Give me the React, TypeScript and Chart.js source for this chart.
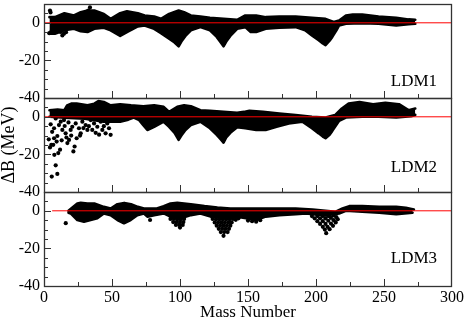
import { useEffect, useRef } from 'react';
import { Chart, registerables } from 'chart.js';
Chart.register(...registerables);

// ---------- data ----------
const X_MIN = 0;
const X_MAX = 300;
const X_TICK_VALUES = [0, 50, 100, 150, 200, 250, 300];
const Y_MIN = -40;
const Y_MAX = 10;
const Y_TICK_LABELS = [0, -20, -40];
const PANEL_LABELS = ['LDM1', 'LDM2', 'LDM3'];
const LABEL_X = 289;
const LABEL_Y = [-33.8, -29.1, -27.9];
const RED_START = [0, 0, 6];

// Panel 1 (LDM1) band envelopes
const P1_UP_A = [4, 8, 15, 22, 27, 32, 37, 44, 49, 56, 61, 69, 74, 81, 86, 92, 99, 103, 108, 115, 122, 132, 142, 148, 156, 163, 173, 185, 197, 207, 213, 217, 222, 227, 234, 246, 259, 268, 273];
const P1_UP_V = [3.0, 3.0, 5.1, 3.9, 5.6, 6.5, 6.5, 4.7, 2.1, 5.1, 6.1, 5.1, 3.9, 3.3, 2.1, 4.7, 6.5, 5.6, 3.9, 3.3, 2.6, 2.1, 1.6, 3.9, 3.9, 3.0, 3.3, 3.3, 2.6, 2.1, 0.4, 1.2, 3.9, 4.4, 4.4, 3.3, 2.6, 1.8, 1.6];
const P1_LO_A = [4, 8, 15, 22, 27, 32, 37, 44, 49, 56, 61, 69, 74, 81, 86, 92, 96, 99, 101, 104, 108, 115, 122, 127, 130, 132, 134, 137, 142, 148, 152, 156, 163, 173, 185, 192, 197, 202, 205, 207, 210, 212, 215, 217, 222, 234, 246, 259, 268, 273];
const P1_LO_V = [-5.8, -5.8, -4.0, -3.2, -4.5, -4.9, -3.2, -2.6, -4.0, -7.0, -4.9, -1.9, -1.4, -3.2, -5.5, -8.5, -10.5, -12.5, -10.0, -7.0, -4.0, -2.3, -4.0, -7.5, -10.5, -12.5, -10.0, -7.0, -3.2, -2.3, -4.9, -4.9, -3.2, -2.6, -2.3, -4.0, -6.7, -9.3, -11.0, -11.9, -9.5, -7.5, -4.0, -1.4, -0.5, -0.2, -0.5, -1.4, -0.8, -0.5];
const P1_POINTS = [[4.4, 6.5], [4.8, 5.5], [3.9, -5.5], [5.5, -4.5], [12.3, -4.9], [13.5, -6.7], [14.7, -5.8], [16.2, -5.0], [11.8, -4.0], [33.8, 8.2], [32.6, 6.5], [7.0, -3.5]];

// Panel 2 (LDM2) band envelopes
const P2_UP_A = [4, 10, 15, 17, 20, 24, 32, 37, 40, 44, 49, 56, 64, 73, 81, 88, 92, 98, 103, 108, 115, 122, 132, 142, 147, 151, 161, 173, 185, 197, 207, 214, 219, 224, 232, 242, 251, 261, 268, 273];
const P2_UP_V = [3.5, 3.9, 3.5, 6.1, 7.0, 7.0, 6.1, 7.0, 8.4, 7.9, 6.1, 6.7, 6.1, 5.6, 6.1, 5.3, 2.6, 5.3, 6.1, 5.6, 3.5, 3.2, 2.6, 2.1, 2.6, 3.2, 2.6, 1.75, 0.9, 0, -0.35, 0.9, 4.4, 7.0, 7.9, 6.7, 7.4, 6.7, 3.5, 4.4];
const P2_LO_A = [4, 15, 30, 44, 50, 56, 62, 66, 70, 73, 76, 81, 88, 92, 96, 99, 101, 104, 108, 115, 122, 127, 130, 132, 134, 137, 142, 148, 156, 163, 171, 180, 190, 197, 202, 205, 207, 210, 212, 217, 222, 234, 246, 259, 270, 273];
const P2_LO_V = [0, -0.5, -1.0, -2.6, -2.6, -2.6, -1.5, -0.4, -1.75, -4.5, -7.0, -5.3, -2.6, -5.3, -8.5, -12.3, -10, -7, -4.4, -2.6, -6.1, -9.6, -12, -13.7, -11, -8.5, -5.5, -6.1, -7.0, -7.0, -5.3, -3.5, -2.6, -6.1, -8.8, -10.5, -11.4, -9.5, -7.5, -2.1, -0.4, 0, 0, -0.4, 0.35, 1.0];
const P2_POINTS = [[5.7, -31.8], [9.8, -30.4], [8.6, -25.8], [7.6, -20.2], [4.4, -16.3], [5.4, -14.9], [6.8, -14.9], [11.8, -17.5], [9.3, -13.2], [7.4, -11.4], [9.8, -10.2], [13.5, -7], [11, -4.4], [15.9, -8.8], [18.4, -12.3], [17.2, -14], [19.6, -7], [20.8, -5.3], [22.5, -15.8], [24, -11.4], [21.6, -18.4], [23.3, -3.5], [25.7, -6.1], [27, -8.8], [28.2, -2.6], [30.6, -4.4], [31.9, -7], [34.3, -1.75], [36.8, -3.5], [39.2, -5.3], [41.7, -2.6], [42.9, -7], [45.3, -8.8], [47.8, -6.1], [14.7, -1.75], [8.6, -0.9], [7.4, -6.1], [12.3, -2.6], [15.2, -4.9], [49, -9.6], [4.9, -4], [6, -8], [3.5, -12], [10.5, -19.3], [26.5, -10], [29, -6], [33, -5], [35.5, -7], [38, -8.5], [44, -5], [46.5, -3.5], [40.5, -9.5], [18, -3], [16.5, -11], [13, -12.5], [20, -10]];

// Panel 3 (LDM3) band envelopes
const P3_UP_A = [18, 20, 24.5, 27, 32, 37, 40.5, 44, 49, 54, 59, 64, 69, 73.5, 78, 83, 88, 93, 98, 108, 118, 127.5, 137, 147, 161, 173, 185, 197.5, 207, 214.5, 219.5, 224.5, 234, 246.5, 259, 266, 272];
const P3_UP_V = [0, 1.2, 3.9, 4.2, 3.9, 3.9, 3.0, 2.1, 1.2, 3.5, 4.2, 3.5, 2.1, 1.2, 1.2, 1.2, 2.5, 3.9, 4.2, 3.5, 2.5, 1.75, 1.2, 1.2, 1.2, 1.2, 1.2, 0.7, 0, -0.5, 1.2, 2.5, 2.5, 2.1, 2.1, 1.6, 0.7];
const P3_LO_A = [18, 19.6, 24.5, 29.4, 34.3, 39.2, 44, 49, 54, 58.8, 63.7, 68.6, 73.5, 76, 81, 88, 93, 98, 103, 108, 115, 122.5, 130, 137, 142, 148.5, 156, 163, 173, 185, 192.6, 197.5, 207, 212, 217, 222, 234, 246.5, 259, 271];
const P3_LO_V = [-1.0, -1.4, -4.9, -5.8, -4.9, -4.0, -1.4, -2.3, -4.9, -6.6, -4.9, -2.3, -1.4, -3.1, -2.3, -1.4, -3.1, -4.0, -3.5, -2.3, -1.4, -3.1, -3.8, -3.8, -3.1, -4.0, -4.9, -3.1, -2.3, -1.75, -1.4, -1.75, -2.5, -2.0, -1.4, 0, -0.5, -1.0, -1.75, -1.0];
const P3_POINTS = [
  [16, -6.6], [78, -4.9],
  [93, -4.3], [95.5, -4.3], [98, -4.5], [100.5, -4.5], [103, -4.3],
  [95, -6], [97.5, -6], [100, -6], [102.5, -6],
  [97, -7.5], [99.5, -7.5], [102, -7.5], [100, -8.9],
  [124, -4.3], [126.5, -4.5], [129, -4.5], [131.5, -4.5], [134, -4.5], [136.5, -4.5], [139, -4.3],
  [125.5, -6.2], [128, -6.2], [130.5, -6.2], [133, -6.2], [135.5, -6.2], [138, -6.2],
  [127, -7.9], [129.5, -7.9], [132, -7.9], [134.5, -7.9], [137, -7.9],
  [128.5, -9.6], [131, -9.6], [133.5, -9.6], [136, -9.6],
  [130, -11.3], [132.5, -11.3], [135, -11.3], [132, -13.3],
  [141, -4.8], [143, -4.0],
  [197, -2.8], [199, -4], [201, -5.5], [203, -7], [205, -8.5], [206.5, -10], [207.5, -11.9],
  [201, -2.8], [203, -4], [205, -5.5], [207, -7], [208.5, -8.5], [210, -9.8],
  [205, -2.8], [207, -4], [209, -5.3], [211, -6.8], [212.5, -8],
  [209, -2.8], [211, -3.8], [213, -5], [214.5, -6.2],
  [213, -2.5], [215, -3.4], [216, -4.5],
  [150, -5.2], [153, -5.5], [156, -5.8], [159, -5.0]
];

const FONT = 'Liberation Serif';

const PANELS = [
  { axis: 'y1', upA: P1_UP_A, upV: P1_UP_V, loA: P1_LO_A, loV: P1_LO_V, pts: P1_POINTS },
  { axis: 'y2', upA: P2_UP_A, upV: P2_UP_V, loA: P2_LO_A, loV: P2_LO_V, pts: P2_POINTS },
  { axis: 'y3', upA: P3_UP_A, upV: P3_UP_V, loA: P3_LO_A, loV: P3_LO_V, pts: P3_POINTS },
];

const toXY = (a: number[], v: number[]) => a.map((x, i) => ({ x, y: v[i] }));

const framePlugin = {
  id: 'frameTicks',
  afterDraw(chart: any) {
    const { ctx, chartArea } = chart;
    const xs = chart.scales.x;
    ctx.save();
    PANELS.forEach((p, i) => {
      const s = chart.scales[p.axis];
      const top = s.top;
      const bottom = s.bottom;
      ctx.strokeStyle = '#333';
      ctx.lineWidth = 1.3;
      ctx.strokeRect(chartArea.left + 0.5, top + 0.5, chartArea.right - chartArea.left - 1, bottom - top);
      ctx.lineWidth = 1;
      ctx.beginPath();
      for (let v = Y_MIN; v <= Y_MAX; v += 5) {
        const y = Math.round(s.getPixelForValue(v)) + 0.5;
        const len = v % 20 === 0 ? 7 : 4;
        ctx.moveTo(chartArea.left, y);
        ctx.lineTo(chartArea.left + len, y);
      }
      for (let a = X_MIN + 25; a < X_MAX; a += 25) {
        const x = Math.round(xs.getPixelForValue(a)) + 0.5;
        const len = a % 50 === 0 ? 7 : 4;
        ctx.moveTo(x, bottom);
        ctx.lineTo(x, bottom - len);
      }
      ctx.stroke();
      ctx.fillStyle = '#000';
      ctx.font = `17px "${FONT}"`;
      ctx.textAlign = 'right';
      ctx.textBaseline = 'alphabetic';
      ctx.fillText(PANEL_LABELS[i], xs.getPixelForValue(LABEL_X), s.getPixelForValue(LABEL_Y[i]));
    });
    ctx.restore();
  },
};

export default function App() {
  const ref = useRef<HTMLCanvasElement | null>(null);
  useEffect(() => {
    if (!ref.current) return;
    const datasets: any[] = [];
    PANELS.forEach((p, i) => {
      const loIndex = datasets.length;
      datasets.push({
        type: 'line', data: toXY(p.loA, p.loV), yAxisID: p.axis, xAxisID: 'x',
        borderColor: '#000', borderWidth: 2.6, pointRadius: 0, fill: false, tension: 0, order: 3,
        borderJoinStyle: 'round', borderCapStyle: 'round',
      });
      datasets.push({
        type: 'line', data: toXY(p.upA, p.upV), yAxisID: p.axis, xAxisID: 'x',
        borderColor: '#000', backgroundColor: '#000', borderWidth: 2.6, pointRadius: 0,
        fill: loIndex, tension: 0, order: 3, borderJoinStyle: 'round', borderCapStyle: 'round',
      });
      datasets.push({
        type: 'line', showLine: false, data: p.pts.map(([x, y]) => ({ x, y })), yAxisID: p.axis, xAxisID: 'x',
        pointRadius: 2.1, pointBackgroundColor: '#000', pointBorderWidth: 0, order: 2,
      });
      datasets.push({
        type: 'line', data: [{ x: RED_START[i], y: 0 }, { x: X_MAX, y: 0 }], yAxisID: p.axis, xAxisID: 'x',
        borderColor: '#ff0000', borderWidth: 1, pointRadius: 0, fill: false, order: 1,
      });
    });

    const yAxis = (weight: number, showTitle: boolean) => ({
      type: 'linear', position: 'left', stack: 'panels', stackWeight: 1, weight,
      min: Y_MIN, max: Y_MAX,
      border: { display: false },
      grid: { display: false, drawTicks: false },
      title: {
        display: showTitle, text: 'ΔB (MeV)', color: '#000',
        font: { family: FONT, size: 18, lineHeight: 1 }, padding: 0,
      },
      ticks: {
        stepSize: 5, autoSkip: false, padding: 4, color: '#000',
        font: { family: FONT, size: 16 },
        callback: (v: number) => (Y_TICK_LABELS.includes(v) ? String(v) : ''),
      },
      afterFit: (s: any) => { s.width = 44; s.paddingTop = 0; s.paddingBottom = 0; },
    });

    const chart = new Chart(ref.current, {
      type: 'line',
      data: { datasets },
      plugins: [framePlugin],
      options: {
        animation: false,
        responsive: false,
        devicePixelRatio: 1,
        layout: { padding: { left: 0, right: 12, top: 0, bottom: 0 } },
        plugins: { legend: { display: false }, tooltip: { enabled: false } },
        scales: {
          x: {
            type: 'linear', position: 'bottom', min: X_MIN, max: X_MAX,
            border: { display: false },
            grid: { display: false, drawTicks: false },
            afterBuildTicks: (s: any) => { s.ticks = X_TICK_VALUES.map((value) => ({ value })); },
            ticks: { padding: 2, color: '#000', font: { family: FONT, size: 16 }, maxRotation: 0, autoSkip: false },
            title: {
              display: true, text: 'Mass Number', color: '#000',
              font: { family: FONT, size: 17, lineHeight: 0.8 }, padding: 0,
            },
            afterFit: (s: any) => { s.height = 33; s.paddingLeft = 0; s.paddingRight = 0; },
          },
          y1: yAxis(3, false),
          y2: yAxis(2, true),
          y3: yAxis(1, false),
        } as any,
      } as any,
    });
    return () => chart.destroy();
  }, []);

  return (
    <div style={{ position: 'absolute', left: 0, top: 0, width: 464, height: 319, background: '#fff' }}>
      <canvas ref={ref} width={464} height={319} style={{ width: 464, height: 319, display: 'block' }} />
    </div>
  );
}
